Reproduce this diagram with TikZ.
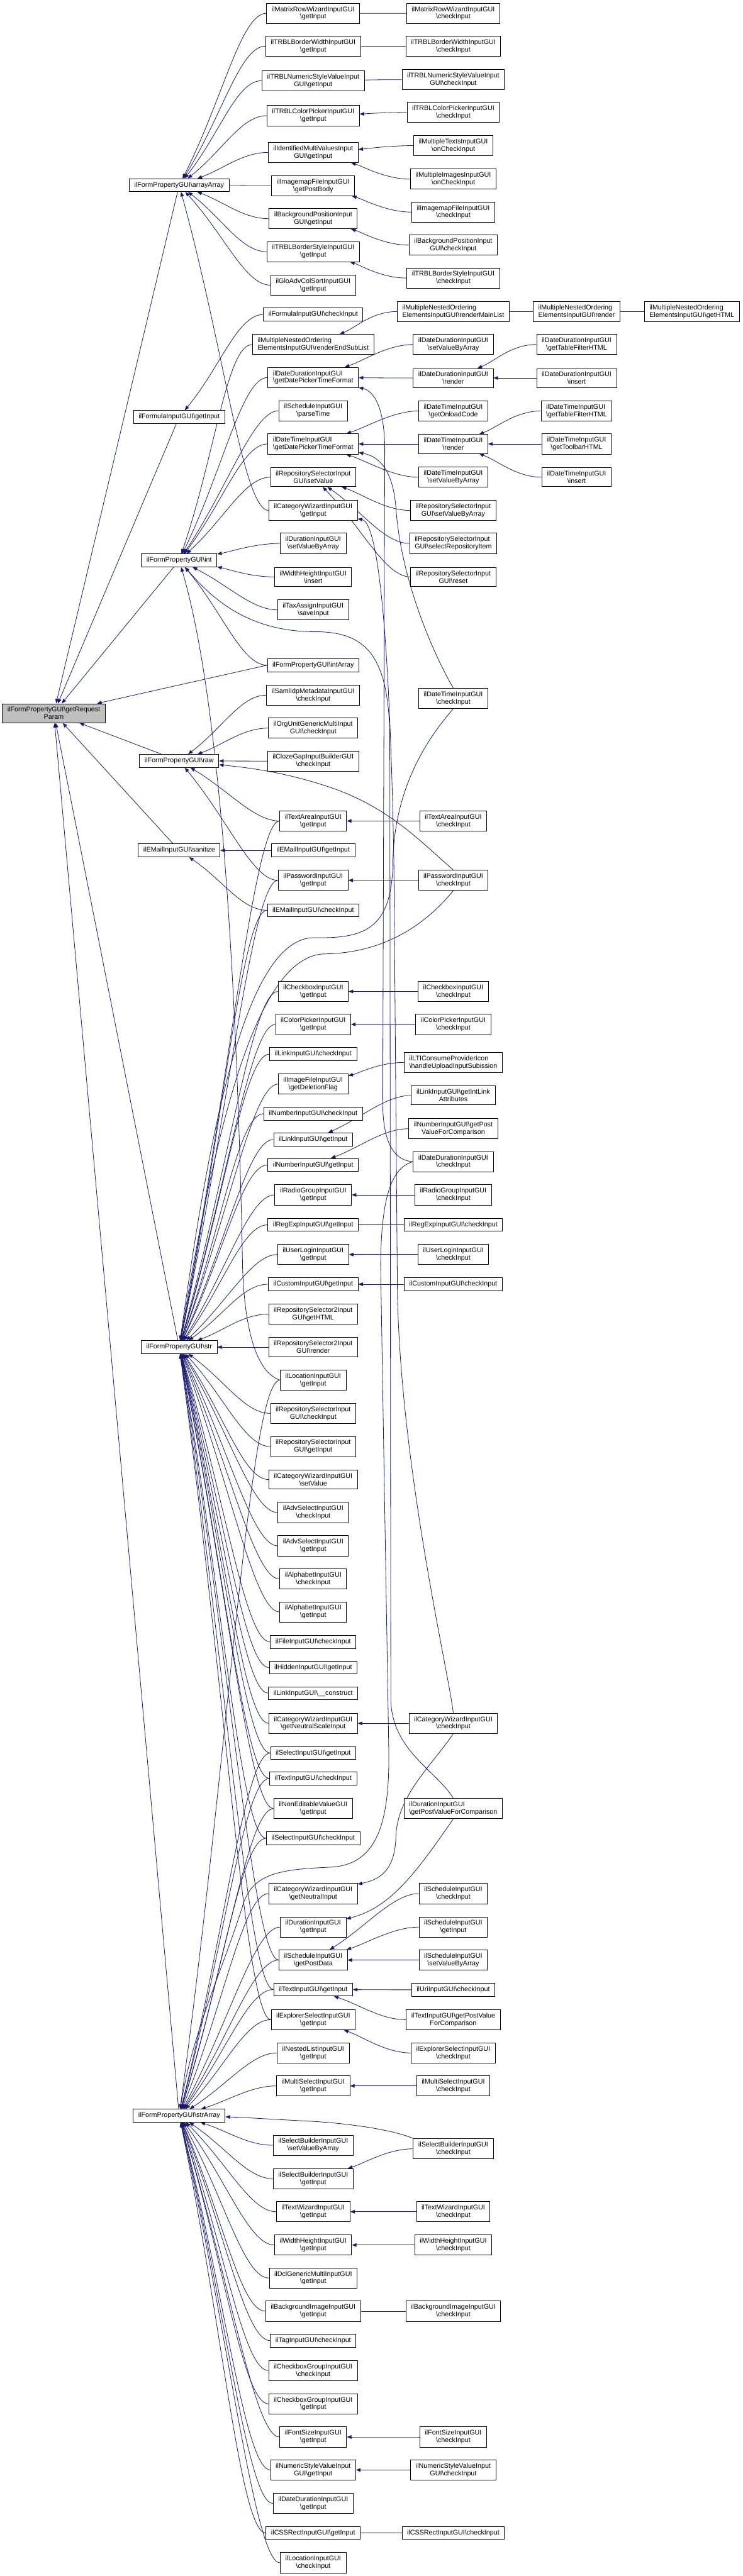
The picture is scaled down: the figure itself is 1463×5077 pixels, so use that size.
\documentclass[tikz,border=0pt]{standalone}
\usepackage{fontspec}
\setmainfont{Liberation Sans}
\usetikzlibrary{calc,arrows.meta}
\definecolor{edgeblue}{RGB}{25,25,112}
\definecolor{rootgray}{RGB}{191,191,191}
\pgfdeclarelayer{bg}
\pgfdeclarelayer{paper}
\pgfsetlayers{paper,bg,main}
\newcommand\bsl{\textbackslash}
\newcommand\cedge[3][50]{\draw[e] (#2.west) .. controls +(-#1,0) and ($(#3)!0.5!(#2.west)$) .. (#3);}
\begin{document}
\begin{tikzpicture}[x=1pt,y=-1pt,
  nd/.style={draw=black,line width=1.1pt,fill=white,inner xsep=10pt,inner ysep=6.4pt,minimum height=25.5pt,font=\fontsize{13.3}{14.8}\selectfont,align=center},
  ndl/.style={nd,align=left},
  e/.style={draw=edgeblue,line width=1pt,-{Triangle[length=9pt,width=7pt]}}]
\begin{pgfonlayer}{paper}
\fill[white] (0,0) rectangle (1463,5077);
\end{pgfonlayer}
\useasboundingbox (0,0) rectangle (1463,5077);
% root and column 2
\node[nd,fill=rootgray] (root) at (106,1405.6) {ilFormPropertyGUI\bsl getRequest\\Param};
\node[nd] (arr) at (353,365) {ilFormPropertyGUI\bsl arrayArray};
\node[nd] (fgi) at (353,822) {ilFormulaInputGUI\bsl getInput};
\node[nd] (int) at (353,1104.5) {ilFormPropertyGUI\bsl int};
\node[nd] (raw) at (353,1499.6) {ilFormPropertyGUI\bsl raw};
\node[nd] (san) at (353,1676) {ilEMailInputGUI\bsl sanitize};
\node[nd] (str) at (353,2655) {ilFormPropertyGUI\bsl str};
\node[nd] (stra) at (353,4169.7) {ilFormPropertyGUI\bsl strArray};
% column 3
\node[nd] (mrw_gi) at (617,26.3) {ilMatrixRowWizardInputGUI\\\bsl getInput};
\node[nd] (tbw_gi) at (617,91) {ilTRBLBorderWidthInputGUI\\\bsl getInput};
\node[nd] (tnum_gi) at (617,159) {ilTRBLNumericStyleValueInput\\GUI\bsl getInput};
\node[nd] (tcp_gi) at (617,228) {ilTRBLColorPickerInputGUI\\\bsl getInput};
\node[nd] (imv_gi) at (617,300.5) {ilIdentifiedMultiValuesInput\\GUI\bsl getInput};
\node[nd] (imf_gpb) at (617,366) {ilImagemapFileInputGUI\\\bsl getPostBody};
\node[nd] (bgp_gi) at (617,431) {ilBackgroundPositionInput\\GUI\bsl getInput};
\node[nd] (tbs_gi) at (617,496) {ilTRBLBorderStyleInputGUI\\\bsl getInput};
\node[nd] (gac_gi) at (617,562) {ilGloAdvColSortInputGUI\\\bsl getInput};
\node[nd] (fci) at (617,620) {ilFormulaInputGUI\bsl checkInput};
\node[ndl] (mn_res) at (617,679) {ilMultipleNestedOrdering\\ElementsInputGUI\bsl renderEndSubList};
\node[ndl] (dd_gdp) at (617,744) {ilDateDurationInputGUI\\\bsl getDatePickerTimeFormat};
\node[nd] (sch_pt) at (617,809.5) {ilScheduleInputGUI\\\bsl parseTime};
\node[ndl] (dt_gdp) at (617,875) {ilDateTimeInputGUI\\\bsl getDatePickerTimeFormat};
\node[nd] (rs_sv) at (617,940.5) {ilRepositorySelectorInput\\GUI\bsl setValue};
\node[nd] (cw_gi) at (617,1006) {ilCategoryWizardInputGUI\\\bsl getInput};
\node[nd] (dur_svba) at (617,1071) {ilDurationInputGUI\\\bsl setValueByArray};
\node[nd] (wh_ins) at (617,1137) {ilWidthHeightInputGUI\\\bsl insert};
\node[nd] (tax_si) at (617,1202) {ilTaxAssignInputGUI\\\bsl saveInput};
\node[nd] (intarr) at (617,1311) {ilFormPropertyGUI\bsl intArray};
\node[nd] (saml) at (617,1370) {ilSamlIdpMetadataInputGUI\\\bsl checkInput};
\node[nd] (org) at (617,1435) {ilOrgUnitGenericMultiInput\\GUI\bsl checkInput};
\node[nd] (cloze) at (617,1500) {ilClozeGapInputBuilderGUI\\\bsl checkInput};
\node[nd] (ta_gi) at (617,1618) {ilTextAreaInputGUI\\\bsl getInput};
\node[nd] (em_gi) at (617,1676) {ilEMailInputGUI\bsl getInput};
\node[nd] (pw_gi) at (617,1735) {ilPasswordInputGUI\\\bsl getInput};
\node[nd] (em_ci) at (617,1794) {ilEMailInputGUI\bsl checkInput};
\node[nd] (cb_gi) at (617,1954) {ilCheckboxInputGUI\\\bsl getInput};
\node[nd] (cp_gi) at (617,2019) {ilColorPickerInputGUI\\\bsl getInput};
\node[nd] (li_ci) at (617,2077.6) {ilLinkInputGUI\bsl checkInput};
\node[nd] (if_gdf) at (617,2136.6) {ilImageFileInputGUI\\\bsl getDeletionFlag};
\node[nd] (num_ci) at (617,2195) {ilNumberInputGUI\bsl checkInput};
\node[nd] (li_gi) at (617,2245.7) {ilLinkInputGUI\bsl getInput};
\node[nd] (num_gi) at (617,2296) {ilNumberInputGUI\bsl getInput};
\node[nd] (rg_gi) at (617,2355) {ilRadioGroupInputGUI\\\bsl getInput};
\node[nd] (re_gi) at (617,2414) {ilRegExpInputGUI\bsl getInput};
\node[nd] (ul_gi) at (617,2472.5) {ilUserLoginInputGUI\\\bsl getInput};
\node[nd] (cu_gi) at (617,2531) {ilCustomInputGUI\bsl getInput};
\node[nd] (rs2_gh) at (617,2590) {ilRepositorySelector2Input\\GUI\bsl getHTML};
\node[nd] (rs2_r) at (617,2655) {ilRepositorySelector2Input\\GUI\bsl render};
\node[nd] (loc_gi) at (617,2720) {ilLocationInputGUI\\\bsl getInput};
\node[nd] (rs_ci) at (617,2785.6) {ilRepositorySelectorInput\\GUI\bsl checkInput};
\node[nd] (rs_gi) at (617,2851) {ilRepositorySelectorInput\\GUI\bsl getInput};
\node[nd] (cw_sv) at (617,2916) {ilCategoryWizardInputGUI\\\bsl setValue};
\node[nd] (as_ci) at (617,2981) {ilAdvSelectInputGUI\\\bsl checkInput};
\node[nd] (as_gi) at (617,3046.6) {ilAdvSelectInputGUI\\\bsl getInput};
\node[nd] (al_ci) at (617,3112) {ilAlphabetInputGUI\\\bsl checkInput};
\node[nd] (al_gi) at (617,3177) {ilAlphabetInputGUI\\\bsl getInput};
\node[nd] (fi_ci) at (617,3236) {ilFileInputGUI\bsl checkInput};
\node[nd] (hi_gi) at (617,3286.6) {ilHiddenInputGUI\bsl getInput};
\node[nd] (li_con) at (617,3337) {ilLinkInputGUI\bsl\_\_construct};
\node[nd] (cw_gnsi) at (617,3396.5) {ilCategoryWizardInputGUI\\\bsl getNeutralScaleInput};
\node[nd] (se_gi) at (617,3455) {ilSelectInputGUI\bsl getInput};
\node[nd] (ti_ci) at (617,3505) {ilTextInputGUI\bsl checkInput};
\node[nd] (ne_gi) at (617,3564.5) {ilNonEditableValueGUI\\\bsl getInput};
\node[nd] (se_ci) at (617,3623) {ilSelectInputGUI\bsl checkInput};
\node[nd] (cw_gni) at (617,3732) {ilCategoryWizardInputGUI\\\bsl getNeutralInput};
\node[nd] (dur_gi) at (617,3798) {ilDurationInputGUI\\\bsl getInput};
\node[nd] (sch_gpd) at (617,3863) {ilScheduleInputGUI\\\bsl getPostData};
\node[nd] (ti_gi) at (617,3921) {ilTextInputGUI\bsl getInput};
\node[nd] (es_gi) at (617,3980.5) {ilExplorerSelectInputGUI\\\bsl getInput};
\node[nd] (nl_gi) at (617,4046) {ilNestedListInputGUI\\\bsl getInput};
\node[nd] (ms_gi) at (617,4111) {ilMultiSelectInputGUI\\\bsl getInput};
\node[nd] (sb_svba) at (617,4228) {ilSelectBuilderInputGUI\\\bsl setValueByArray};
\node[nd] (sb_gi) at (617,4294) {ilSelectBuilderInputGUI\\\bsl getInput};
\node[nd] (tw_gi) at (617,4359) {ilTextWizardInputGUI\\\bsl getInput};
\node[nd] (wh_gi) at (617,4424.6) {ilWidthHeightInputGUI\\\bsl getInput};
\node[nd] (dcl_gi) at (617,4489.7) {ilDclGenericMultiInputGUI\\\bsl getInput};
\node[nd] (bgi_gi) at (617,4555) {ilBackgroundImageInputGUI\\\bsl getInput};
\node[nd] (tag_ci) at (617,4613) {ilTagInputGUI\bsl checkInput};
\node[nd] (cbg_ci) at (617,4672) {ilCheckboxGroupInputGUI\\\bsl checkInput};
\node[nd] (cbg_gi) at (617,4737.6) {ilCheckboxGroupInputGUI\\\bsl getInput};
\node[nd] (fs_gi) at (617,4803) {ilFontSizeInputGUI\\\bsl getInput};
\node[nd] (nsv_gi) at (617,4868) {ilNumericStyleValueInput\\GUI\bsl getInput};
\node[nd] (dd_gi) at (617,4934) {ilDateDurationInputGUI\\\bsl getInput};
\node[nd] (css_gi) at (617,4992) {ilCSSRectInputGUI\bsl getInput};
\node[nd] (loc_ci) at (617,5051) {ilLocationInputGUI\\\bsl checkInput};
% column 4
\node[nd] (mrw_ci) at (893,26.3) {ilMatrixRowWizardInputGUI\\\bsl checkInput};
\node[nd] (tbw_ci) at (893,91) {ilTRBLBorderWidthInputGUI\\\bsl checkInput};
\node[nd] (tnum_ci) at (893,157) {ilTRBLNumericStyleValueInput\\GUI\bsl checkInput};
\node[nd] (tcp_ci) at (893,221.6) {ilTRBLColorPickerInputGUI\\\bsl checkInput};
\node[nd] (mt_oci) at (893,287) {ilMultipleTextsInputGUI\\\bsl onCheckInput};
\node[nd] (mi_oci) at (893,353) {ilMultipleImagesInputGUI\\\bsl onCheckInput};
\node[nd] (imf_ci) at (893,418) {ilImagemapFileInputGUI\\\bsl checkInput};
\node[nd] (bgp_ci) at (893,483) {ilBackgroundPositionInput\\GUI\bsl checkInput};
\node[nd] (tbs_ci) at (893,548) {ilTRBLBorderStyleInputGUI\\\bsl checkInput};
\node[ndl] (mn_rml) at (893,614) {ilMultipleNestedOrdering\\ElementsInputGUI\bsl renderMainList};
\node[nd] (dd_svba) at (893,679) {ilDateDurationInputGUI\\\bsl setValueByArray};
\node[nd] (dd_r) at (893,745) {ilDateDurationInputGUI\\\bsl render};
\node[nd] (dt_goc) at (893,810) {ilDateTimeInputGUI\\\bsl getOnloadCode};
\node[nd] (dt_r) at (893,875) {ilDateTimeInputGUI\\\bsl render};
\node[nd] (dt_svba) at (893,940.5) {ilDateTimeInputGUI\\\bsl setValueByArray};
\node[nd] (rs_svba) at (893,1006) {ilRepositorySelectorInput\\GUI\bsl setValueByArray};
\node[ndl] (rs_sri) at (893,1071) {ilRepositorySelectorInput\\GUI\bsl selectRepositoryItem};
\node[nd] (rs_rst) at (893,1137) {ilRepositorySelectorInput\\GUI\bsl reset};
\node[nd] (dt_ci) at (893,1376.5) {ilDateTimeInputGUI\\\bsl checkInput};
\node[nd] (ta_ci) at (893,1618) {ilTextAreaInputGUI\\\bsl checkInput};
\node[nd] (pw_ci) at (893,1735) {ilPasswordInputGUI\\\bsl checkInput};
\node[nd] (cb_ci) at (893,1954) {ilCheckboxInputGUI\\\bsl checkInput};
\node[nd] (cp_ci) at (893,2019) {ilColorPickerInputGUI\\\bsl checkInput};
\node[ndl] (lti) at (893,2094) {ilLTIConsumeProviderIcon\\\bsl handleUploadInputSubission};
\node[nd] (li_gila) at (893,2159) {ilLinkInputGUI\bsl getIntLink\\Attributes};
\node[nd] (num_gpv) at (893,2224.6) {ilNumberInputGUI\bsl getPost\\ValueForComparison};
\node[nd] (dd_ci) at (893,2289.6) {ilDateDurationInputGUI\\\bsl checkInput};
\node[nd] (rg_ci) at (893,2355) {ilRadioGroupInputGUI\\\bsl checkInput};
\node[nd] (re_ci) at (893,2414) {ilRegExpInputGUI\bsl checkInput};
\node[nd] (ul_ci) at (893,2472.5) {ilUserLoginInputGUI\\\bsl checkInput};
\node[nd] (cu_ci) at (893,2531) {ilCustomInputGUI\bsl checkInput};
\node[nd] (cw_ci) at (893,3396.5) {ilCategoryWizardInputGUI\\\bsl checkInput};
\node[ndl] (dur_gpv) at (893,3564.5) {ilDurationInputGUI\\\bsl getPostValueForComparison};
\node[nd] (sch_ci) at (893,3732) {ilScheduleInputGUI\\\bsl checkInput};
\node[nd] (sch_gi) at (893,3798) {ilScheduleInputGUI\\\bsl getInput};
\node[nd] (sch_svba) at (893,3863) {ilScheduleInputGUI\\\bsl setValueByArray};
\node[nd] (uri_ci) at (893,3921.6) {ilUriInputGUI\bsl checkInput};
\node[nd] (ti_gpv) at (893,3980.5) {ilTextInputGUI\bsl getPostValue\\ForComparison};
\node[nd] (es_ci) at (893,4046) {ilExplorerSelectInputGUI\\\bsl checkInput};
\node[nd] (ms_ci) at (893,4111) {ilMultiSelectInputGUI\\\bsl checkInput};
\node[nd] (sb_ci) at (893,4235) {ilSelectBuilderInputGUI\\\bsl checkInput};
\node[nd] (tw_ci) at (893,4359) {ilTextWizardInputGUI\\\bsl checkInput};
\node[nd] (wh_ci) at (893,4424.6) {ilWidthHeightInputGUI\\\bsl checkInput};
\node[nd] (bgi_ci) at (893,4555) {ilBackgroundImageInputGUI\\\bsl checkInput};
\node[nd] (fs_ci) at (893,4803) {ilFontSizeInputGUI\\\bsl checkInput};
\node[nd] (nsv_ci) at (893,4868) {ilNumericStyleValueInput\\GUI\bsl checkInput};
\node[nd] (css_ci) at (893,4992) {ilCSSRectInputGUI\bsl checkInput};
% column 5 and 6
\node[ndl] (mn_r) at (1136,614) {ilMultipleNestedOrdering\\ElementsInputGUI\bsl render};
\node[nd] (dd_tfh) at (1136,679) {ilDateDurationInputGUI\\\bsl getTableFilterHTML};
\node[nd] (dd_ins) at (1136,745) {ilDateDurationInputGUI\\\bsl insert};
\node[ndl] (dt_tfh) at (1136,810) {ilDateTimeInputGUI\\\bsl getTableFilterHTML};
\node[nd] (dt_tb) at (1136,875) {ilDateTimeInputGUI\\\bsl getToolbarHTML};
\node[nd] (dt_ins) at (1136,940.5) {ilDateTimeInputGUI\\\bsl insert};
\node[ndl] (mn_gh) at (1363,614) {ilMultipleNestedOrdering\\ElementsInputGUI\bsl getHTML};

\begin{pgfonlayer}{bg}
% into root
\draw[e] (arr) -- (root);
\draw[e] (fgi) -- (root);
\draw[e] (int) -- (root);
\draw[e] (intarr.west) -- (root);
\draw[e] (raw) -- (root);
\draw[e] (san) -- (root);
\draw[e] (str) -- (root);
\draw[e] (stra) -- (root);
% into arrayArray
\cedge{mrw_gi}{arr}
\cedge{tbw_gi}{arr}
\cedge{tnum_gi}{arr}
\cedge{tcp_gi}{arr}
\cedge{imv_gi}{arr}
\cedge{imf_gpb}{arr}
\cedge{bgp_gi}{arr}
\cedge{tbs_gi}{arr}
\cedge{gac_gi}{arr}
\cedge{cw_gi}{arr}
\cedge{fci}{fgi}
% into int
\cedge{mn_res}{int}
\cedge{dd_gdp}{int}
\cedge{sch_pt}{int}
\cedge{dt_gdp}{int}
\cedge{rs_sv}{int}
\cedge{dur_svba}{int}
\cedge{wh_ins}{int}
\cedge{tax_si}{int}
\cedge{intarr}{int}
\draw[e] (loc_gi.west) .. controls (505,2705) and (482,2620) .. (478,2500) .. controls (468,2000) and (440,1400) .. (int);
\draw[e] (dur_gpv.north) .. controls (860,3490) and (772,3450) .. (770,3350) -- (768,1450) .. controls (765,1290) and (720,1245) .. (620,1245) .. controls (480,1245) and (410,1170) .. (int);
% into raw
\cedge{saml}{raw}
\cedge{org}{raw}
\cedge{cloze}{raw}
\cedge{ta_gi}{raw}
\cedge{pw_gi}{raw}
\draw[e] (pw_ci.north) .. controls (830,1660) and (770,1595) .. (660,1555) .. controls (560,1520) and (480,1512) .. (raw);
% into sanitize
\cedge{em_gi}{san}
\cedge{em_ci}{san}
% into str
\cedge{pw_gi}{str}
\cedge{em_ci}{str}
\cedge{ta_gi}{str}
\cedge{cb_gi}{str}
\cedge{cp_gi}{str}
\cedge{li_ci}{str}
\cedge{if_gdf}{str}
\cedge{num_ci}{str}
\cedge{li_gi}{str}
\cedge{num_gi}{str}
\cedge{rg_gi}{str}
\cedge{re_gi}{str}
\cedge{ul_gi}{str}
\cedge{cu_gi}{str}
\cedge{rs2_gh}{str}
\cedge{rs2_r}{str}
\cedge{rs_ci}{str}
\cedge{rs_gi}{str}
\cedge{cw_sv}{str}
\cedge{as_ci}{str}
\cedge{as_gi}{str}
\cedge{al_ci}{str}
\cedge{al_gi}{str}
\cedge{fi_ci}{str}
\cedge{hi_gi}{str}
\cedge{li_con}{str}
\cedge{cw_gnsi}{str}
\cedge{se_gi}{str}
\cedge{ti_ci}{str}
\cedge{ne_gi}{str}
\cedge{se_ci}{str}
\cedge{sch_gpd}{str}
\cedge{ti_gi}{str}
\cedge{es_gi}{str}
\draw[e] (dt_ci.south) .. controls (820,1480) and (776,1580) .. (774,1700) .. controls (772,1830) and (720,1850) .. (620,1848) .. controls (480,1846) and (410,2250) .. (str);
\draw[e] (pw_ci.south) .. controls (840,1820) and (760,1878) .. (640,1880) .. controls (500,1882) and (420,2250) .. (str);
% into strArray
\cedge{se_gi}{stra}
\cedge{ti_ci}{stra}
\cedge{ne_gi}{stra}
\cedge{se_ci}{stra}
\cedge{cw_gni}{stra}
\cedge{dur_gi}{stra}
\cedge{sch_gpd}{stra}
\cedge{ti_gi}{stra}
\cedge{es_gi}{stra}
\cedge{nl_gi}{stra}
\cedge{ms_gi}{stra}
\cedge{sb_svba}{stra}
\cedge{sb_gi}{stra}
\cedge{tw_gi}{stra}
\cedge{wh_gi}{stra}
\cedge{dcl_gi}{stra}
\cedge{bgi_gi}{stra}
\cedge{tag_ci}{stra}
\cedge{cbg_ci}{stra}
\cedge{cbg_gi}{stra}
\cedge{fs_gi}{stra}
\cedge{nsv_gi}{stra}
\cedge{dd_gi}{stra}
\cedge{css_gi}{stra}
\cedge{loc_ci}{stra}
\cedge[60]{loc_gi}{stra}
\draw[e] (sb_ci.north west) .. controls (780,4200) and (700,4185) .. (600,4180) .. controls (520,4176) and (480,4173) .. (stra);
\draw[e] (dd_ci.west) .. controls (775,2300) and (750,2350) .. (750,2500) -- (766,3450) .. controls (768,3600) and (740,3676) .. (650,3680) .. controls (560,3684) and (500,3690) .. (480,3750) .. controls (440,3880) and (380,4000) .. (stra);
% column 4 -> column 3 and further right
\cedge{mrw_ci}{mrw_gi}
\cedge{tbw_ci}{tbw_gi}
\cedge{tnum_ci}{tnum_gi}
\cedge{tcp_ci}{tcp_gi}
\cedge{mt_oci}{imv_gi}
\cedge{mi_oci}{imv_gi}
\cedge{imf_ci}{imf_gpb}
\cedge{bgp_ci}{bgp_gi}
\cedge{tbs_ci}{tbs_gi}
\cedge{mn_rml}{mn_res}
\cedge{mn_r}{mn_rml}
\cedge{mn_gh}{mn_r}
\cedge{dd_svba}{dd_gdp}
\cedge{dd_r}{dd_gdp}
\cedge{dd_tfh}{dd_r}
\cedge{dd_ins}{dd_r}
\cedge{dt_goc}{dt_gdp}
\cedge{dt_r}{dt_gdp}
\cedge{dt_svba}{dt_gdp}
\cedge{dt_tfh}{dt_r}
\cedge{dt_tb}{dt_r}
\cedge{dt_ins}{dt_r}
\cedge{rs_svba}{rs_sv}
\cedge{rs_sri}{rs_sv}
\cedge{rs_rst}{rs_sv}
\cedge{ta_ci}{ta_gi}
\cedge{pw_ci}{pw_gi}
\cedge{cb_ci}{cb_gi}
\cedge{cp_ci}{cp_gi}
\cedge{lti}{if_gdf}
\cedge{li_gila}{li_gi}
\cedge{num_gpv}{num_gi}
\cedge{rg_ci}{rg_gi}
\cedge{re_ci}{re_gi}
\cedge{ul_ci}{ul_gi}
\cedge{cu_ci}{cu_gi}
\cedge{cw_ci}{cw_gnsi}
\cedge{sch_ci}{sch_gpd}
\cedge{sch_gi}{sch_gpd}
\cedge{sch_svba}{sch_gpd}
\cedge{uri_ci}{ti_gi}
\cedge{ti_gpv}{ti_gi}
\cedge{es_ci}{es_gi}
\cedge{ms_ci}{ms_gi}
\cedge{sb_ci}{sb_gi}
\cedge{tw_ci}{tw_gi}
\cedge{wh_ci}{wh_gi}
\cedge{bgi_ci}{bgi_gi}
\cedge{fs_ci}{fs_gi}
\cedge{nsv_ci}{nsv_gi}
\cedge{css_ci}{css_gi}
% long routes
\draw[e] (dd_ci.west) .. controls (780,2287) and (756,2260) .. (754,2180) -- (758,900) .. controls (760,800) and (735,770) .. (dd_gdp);
\draw[e] (dt_ci.north) .. controls (860,1300) and (790,1150) .. (780,1000) .. controls (774,930) and (750,900) .. (dt_gdp);
\draw[e] (cw_ci.north) .. controls (885,3300) and (790,2900) .. (783,2550) -- (776,1700) .. controls (768,1250) and (745,1030) .. (cw_gi);
\draw[e] (cw_ci.south) .. controls (850,3480) and (782,3540) .. (780,3620) .. controls (778,3690) and (745,3705) .. (cw_gni);
\draw[e] (dur_gpv.south) .. controls (820,3690) and (770,3760) .. (dur_gi);
\end{pgfonlayer}
\end{tikzpicture}
\end{document}
